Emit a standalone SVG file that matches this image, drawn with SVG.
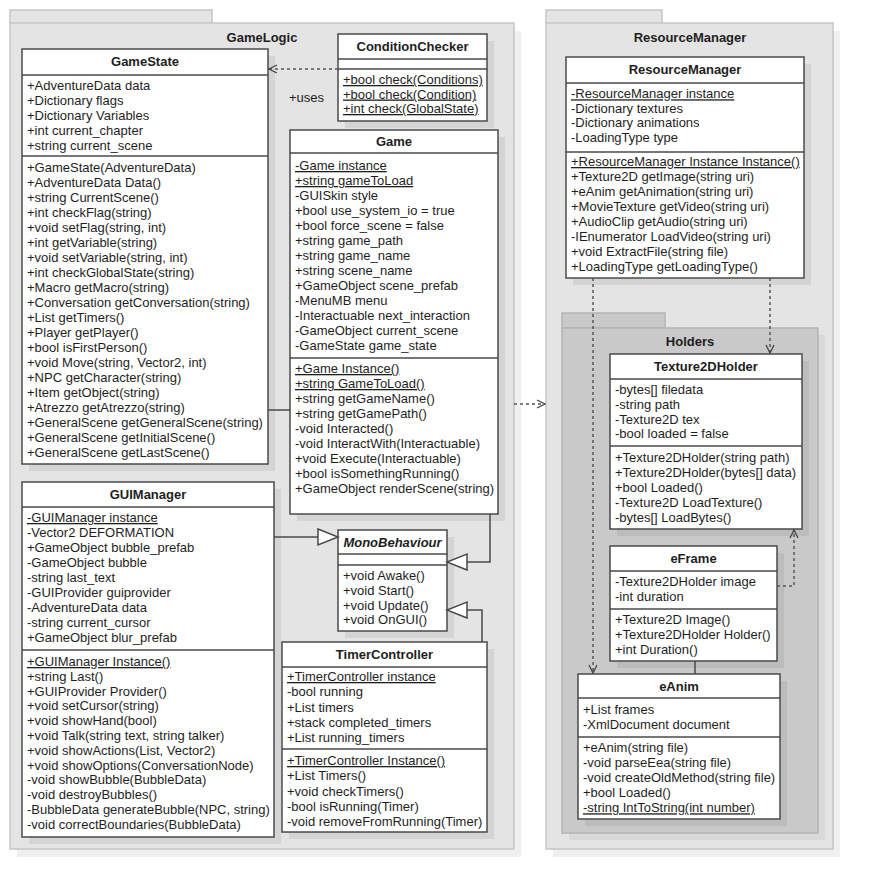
<svg xmlns="http://www.w3.org/2000/svg" width="874" height="890" viewBox="0 0 874 890">
<style>
text{font-family:"Liberation Sans",Arial,sans-serif;font-size:13px;fill:#1e1e1e}
.h{font-weight:bold;text-anchor:middle;font-size:13px}
.i{font-style:italic}
.u{text-decoration:underline}
.pk{fill:#e4e4e4;stroke:#c6c6c6;stroke-width:1.5}
.pks{fill:#f0f0f0}
.hp{fill:#c9c9c9;stroke:#b4b4b4;stroke-width:1.5}
.hps{fill:#d9d9d9}
.box{fill:#fff;stroke:#4a4a4a;stroke-width:1.5}
.sep{stroke:#4a4a4a;stroke-width:1.5}
.shd{fill:#d4d4d4}
.shd2{fill:#bcbcbc}
.ln{fill:none;stroke:#4a4a4a;stroke-width:1.5}
.dl{fill:none;stroke:#555;stroke-width:1.5;stroke-dasharray:3,3}
</style>
<defs>
<marker id="open" markerWidth="12" markerHeight="12" refX="9" refY="5" orient="auto" markerUnits="userSpaceOnUse">
<path d="M1,1 L9,5 L1,9" fill="none" stroke="#444" stroke-width="1.3"/>
</marker>
<marker id="gen" markerWidth="24" markerHeight="20" refX="21" refY="9" orient="auto" markerUnits="userSpaceOnUse">
<path d="M1,1 L21,9 L1,17 Z" fill="#fff" stroke="#4a4a4a" stroke-width="1.5"/>
</marker>
</defs>

<!-- Packages -->
<g id="pkg-GameLogic">
<rect class="pks" x="17" y="31" width="504" height="826"/>
<rect class="pk" x="10" y="10" width="202" height="14"/>
<rect class="pk" x="10" y="23" width="504" height="826"/>
<text class="h" x="262" y="42">GameLogic</text>
</g>
<g id="pkg-ResourceManager">
<rect class="pks" x="553" y="31" width="287" height="826"/>
<rect class="pk" x="546" y="10" width="116" height="14"/>
<rect class="pk" x="546" y="23" width="287" height="826"/>
<text class="h" x="690" y="42">ResourceManager</text>
</g>
<g id="pkg-Holders">
<rect class="hps" x="569" y="335" width="256" height="505"/>
<rect class="hp" x="562" y="313" width="103" height="15"/>
<rect class="hp" x="562" y="328" width="256" height="505"/>
<text class="h" x="690" y="346">Holders</text>
</g>

<!-- GameState -->
<g id="GameState">
<rect class="shd" x="29" y="56" width="246" height="415"/>
<rect class="box" x="22" y="49" width="246" height="415"/>
<line class="sep" x1="22" y1="75" x2="268" y2="75"/>
<line class="sep" x1="22" y1="156" x2="268" y2="156"/>
<text class="h" x="145" y="66">GameState</text>
<text x="27" y="90">+AdventureData data</text>
<text x="27" y="105">+Dictionary flags</text>
<text x="27" y="120">+Dictionary Variables</text>
<text x="27" y="135">+int current_chapter</text>
<text x="27" y="150">+string current_scene</text>
<text x="27" y="172">+GameState(AdventureData)</text>
<text x="27" y="187">+AdventureData Data()</text>
<text x="27" y="202">+string CurrentScene()</text>
<text x="27" y="217">+int checkFlag(string)</text>
<text x="27" y="232">+void setFlag(string, int)</text>
<text x="27" y="247">+int getVariable(string)</text>
<text x="27" y="262">+void setVariable(string, int)</text>
<text x="27" y="277">+int checkGlobalState(string)</text>
<text x="27" y="292">+Macro getMacro(string)</text>
<text x="27" y="307">+Conversation getConversation(string)</text>
<text x="27" y="322">+List getTimers()</text>
<text x="27" y="337">+Player getPlayer()</text>
<text x="27" y="352">+bool isFirstPerson()</text>
<text x="27" y="367">+void Move(string, Vector2, int)</text>
<text x="27" y="382">+NPC getCharacter(string)</text>
<text x="27" y="397">+Item getObject(string)</text>
<text x="27" y="412">+Atrezzo getAtrezzo(string)</text>
<text x="27" y="427">+GeneralScene getGeneralScene(string)</text>
<text x="27" y="442">+GeneralScene getInitialScene()</text>
<text x="27" y="457">+GeneralScene getLastScene()</text>
</g>

<!-- ConditionChecker -->
<g id="ConditionChecker">
<rect class="shd" x="345" y="41" width="149" height="87"/>
<rect class="box" x="338" y="34" width="149" height="87"/>
<line class="sep" x1="338" y1="59" x2="487" y2="59"/>
<line class="sep" x1="338" y1="69" x2="487" y2="69"/>
<text class="h" x="412.5" y="51">ConditionChecker</text>
<text class="u" x="343" y="84">+bool check(Conditions)</text>
<text class="u" x="343" y="98.5">+bool check(Condition)</text>
<text class="u" x="343" y="113">+int check(GlobalState)</text>
</g>

<!-- Game -->
<g id="Game">
<rect class="shd" x="297" y="137" width="208" height="384"/>
<rect class="box" x="290" y="130" width="208" height="384"/>
<line class="sep" x1="290" y1="153" x2="498" y2="153"/>
<line class="sep" x1="290" y1="358" x2="498" y2="358"/>
<text class="h" x="394" y="146">Game</text>
<text class="u" x="295" y="170">-Game instance</text>
<text class="u" x="295" y="185">+string gameToLoad</text>
<text x="295" y="200">-GUISkin style</text>
<text x="295" y="215">+bool use_system_io = true</text>
<text x="295" y="230">+bool force_scene = false</text>
<text x="295" y="245">+string game_path</text>
<text x="295" y="260">+string game_name</text>
<text x="295" y="275">+string scene_name</text>
<text x="295" y="290">+GameObject scene_prefab</text>
<text x="295" y="305">-MenuMB menu</text>
<text x="295" y="320">-Interactuable next_interaction</text>
<text x="295" y="335">-GameObject current_scene</text>
<text x="295" y="350">-GameState game_state</text>
<text class="u" x="295" y="373">+Game Instance()</text>
<text class="u" x="295" y="388">+string GameToLoad()</text>
<text x="295" y="403">+string getGameName()</text>
<text x="295" y="418">+string getGamePath()</text>
<text x="295" y="433">-void Interacted()</text>
<text x="295" y="448">-void InteractWith(Interactuable)</text>
<text x="295" y="463">+void Execute(Interactuable)</text>
<text x="295" y="478">+bool isSomethingRunning()</text>
<text x="295" y="493">+GameObject renderScene(string)</text>
</g>

<!-- GUIManager -->
<g id="GUIManager">
<rect class="shd" x="29" y="489" width="252" height="355"/>
<rect class="box" x="22" y="482" width="252" height="355"/>
<line class="sep" x1="22" y1="507" x2="274" y2="507"/>
<line class="sep" x1="22" y1="650" x2="274" y2="650"/>
<text class="h" x="148" y="499">GUIManager</text>
<text class="u" x="27" y="522">-GUIManager instance</text>
<text x="27" y="537">-Vector2 DEFORMATION</text>
<text x="27" y="552">+GameObject bubble_prefab</text>
<text x="27" y="567">-GameObject bubble</text>
<text x="27" y="582">-string last_text</text>
<text x="27" y="597">-GUIProvider guiprovider</text>
<text x="27" y="612">-AdventureData data</text>
<text x="27" y="627">-string current_cursor</text>
<text x="27" y="642">+GameObject blur_prefab</text>
<text class="u" x="27" y="666">+GUIManager Instance()</text>
<text x="27" y="680.8">+string Last()</text>
<text x="27" y="695.6">+GUIProvider Provider()</text>
<text x="27" y="710.4">+void setCursor(string)</text>
<text x="27" y="725.2">+void showHand(bool)</text>
<text x="27" y="740">+void Talk(string text, string talker)</text>
<text x="27" y="754.8">+void showActions(List, Vector2)</text>
<text x="27" y="769.6">+void showOptions(ConversationNode)</text>
<text x="27" y="784.4">-void showBubble(BubbleData)</text>
<text x="27" y="799.2">-void destroyBubbles()</text>
<text x="27" y="814">-BubbleData generateBubble(NPC, string)</text>
<text x="27" y="828.8">-void correctBoundaries(BubbleData)</text>
</g>

<!-- MonoBehaviour -->
<g id="MonoBehaviour">
<rect class="shd" x="345" y="537" width="109" height="101"/>
<rect class="box" x="338" y="530" width="109" height="101"/>
<line class="sep" x1="338" y1="554" x2="447" y2="554"/>
<line class="sep" x1="338" y1="565" x2="447" y2="565"/>
<text class="h i" x="392.5" y="547">MonoBehaviour</text>
<text x="343" y="580">+void Awake()</text>
<text x="343" y="595">+void Start()</text>
<text x="343" y="610">+void Update()</text>
<text x="343" y="624">+void OnGUI()</text>
</g>

<!-- TimerController -->
<g id="TimerController">
<rect class="shd" x="289" y="649" width="205" height="190"/>
<rect class="box" x="282" y="642" width="205" height="190"/>
<line class="sep" x1="282" y1="667" x2="487" y2="667"/>
<line class="sep" x1="282" y1="749" x2="487" y2="749"/>
<text class="h" x="384.5" y="659">TimerController</text>
<text class="u" x="287" y="681">+TimerController instance</text>
<text x="287" y="696.3">-bool running</text>
<text x="287" y="711.6">+List timers</text>
<text x="287" y="726.9">+stack completed_timers</text>
<text x="287" y="742.2">+List running_timers</text>
<text class="u" x="287" y="765">+TimerController Instance()</text>
<text x="287" y="780.3">+List Timers()</text>
<text x="287" y="795.6">+void checkTimers()</text>
<text x="287" y="810.9">-bool isRunning(Timer)</text>
<text x="287" y="826.2">-void removeFromRunning(Timer)</text>
</g>

<!-- ResourceManager -->
<g id="ResourceManager">
<rect class="shd" x="573" y="64" width="238" height="221"/>
<rect class="box" x="566" y="57" width="238" height="221"/>
<line class="sep" x1="566" y1="83" x2="804" y2="83"/>
<line class="sep" x1="566" y1="152" x2="804" y2="152"/>
<text class="h" x="685" y="74">ResourceManager</text>
<text class="u" x="571" y="98.3">-ResourceManager instance</text>
<text x="571" y="112.8">-Dictionary textures</text>
<text x="571" y="127.3">-Dictionary animations</text>
<text x="571" y="141.8">-LoadingType type</text>
<text class="u" x="571" y="166">+ResourceManager Instance Instance()</text>
<text x="571" y="181">+Texture2D getImage(string uri)</text>
<text x="571" y="196">+eAnim getAnimation(string uri)</text>
<text x="571" y="211">+MovieTexture getVideo(string uri)</text>
<text x="571" y="226">+AudioClip getAudio(string uri)</text>
<text x="571" y="241">-IEnumerator LoadVideo(string uri)</text>
<text x="571" y="256">+void ExtractFile(string file)</text>
<text x="571" y="271">+LoadingType getLoadingType()</text>
</g>

<!-- Texture2DHolder -->
<g id="Texture2DHolder">
<rect class="shd2" x="617" y="361" width="192" height="175"/>
<rect class="box" x="610" y="354" width="192" height="175"/>
<line class="sep" x1="610" y1="379" x2="802" y2="379"/>
<line class="sep" x1="610" y1="446" x2="802" y2="446"/>
<text class="h" x="706" y="371">Texture2DHolder</text>
<text x="615" y="394">-bytes[] filedata</text>
<text x="615" y="408.8">-string path</text>
<text x="615" y="423.6">-Texture2D tex</text>
<text x="615" y="438.4">-bool loaded = false</text>
<text x="615" y="462">+Texture2DHolder(string path)</text>
<text x="615" y="477">+Texture2DHolder(bytes[] data)</text>
<text x="615" y="492">+bool Loaded()</text>
<text x="615" y="507">-Texture2D LoadTexture()</text>
<text x="615" y="522">-bytes[] LoadBytes()</text>
</g>

<!-- eFrame -->
<g id="eFrame">
<rect class="shd2" x="617" y="553" width="167" height="115"/>
<rect class="box" x="610" y="546" width="167" height="115"/>
<line class="sep" x1="610" y1="571" x2="777" y2="571"/>
<line class="sep" x1="610" y1="609" x2="777" y2="609"/>
<text class="h" x="693.5" y="563">eFrame</text>
<text x="615" y="586">-Texture2DHolder image</text>
<text x="615" y="600.7">-int duration</text>
<text x="615" y="624">+Texture2D Image()</text>
<text x="615" y="639">+Texture2DHolder Holder()</text>
<text x="615" y="653.5">+int Duration()</text>
</g>

<!-- eAnim -->
<g id="eAnim">
<rect class="shd2" x="585" y="681" width="202" height="145"/>
<rect class="box" x="578" y="674" width="202" height="145"/>
<line class="sep" x1="578" y1="698" x2="780" y2="698"/>
<line class="sep" x1="578" y1="737" x2="780" y2="737"/>
<text class="h" x="679" y="691">eAnim</text>
<text x="583" y="714">+List frames</text>
<text x="583" y="728.5">-XmlDocument document</text>
<text x="583" y="752.3">+eAnim(string file)</text>
<text x="583" y="767.3">-void parseEea(string file)</text>
<text x="583" y="782.3">-void createOldMethod(string file)</text>
<text x="583" y="797.3">+bool Loaded()</text>
<text class="u" x="583" y="812.3">-string IntToString(int number)</text>
</g>

<!-- Connectors -->
<g id="connectors">
<line class="dl" x1="338" y1="69" x2="269" y2="69" marker-end="url(#open)"/>
<text x="289" y="102">+uses</text>
<line class="ln" x1="268" y1="410" x2="290" y2="410"/>
<line class="ln" x1="274" y1="537" x2="338" y2="537" marker-end="url(#gen)"/>
<polyline class="ln" points="490,514 490,562 447,562" marker-end="url(#gen)"/>
<polyline class="ln" points="482,642 482,610 447,610" marker-end="url(#gen)"/>
<line class="dl" x1="514" y1="404" x2="545" y2="404" marker-end="url(#open)"/>
<line class="dl" x1="593" y1="278" x2="593" y2="673" marker-end="url(#open)"/>
<line class="dl" x1="770" y1="278" x2="770" y2="353" marker-end="url(#open)"/>
<polyline class="dl" points="777,586 794,586 794,530" marker-end="url(#open)"/>
<line class="ln" x1="695" y1="661" x2="695" y2="674"/>
</g>
</svg>
